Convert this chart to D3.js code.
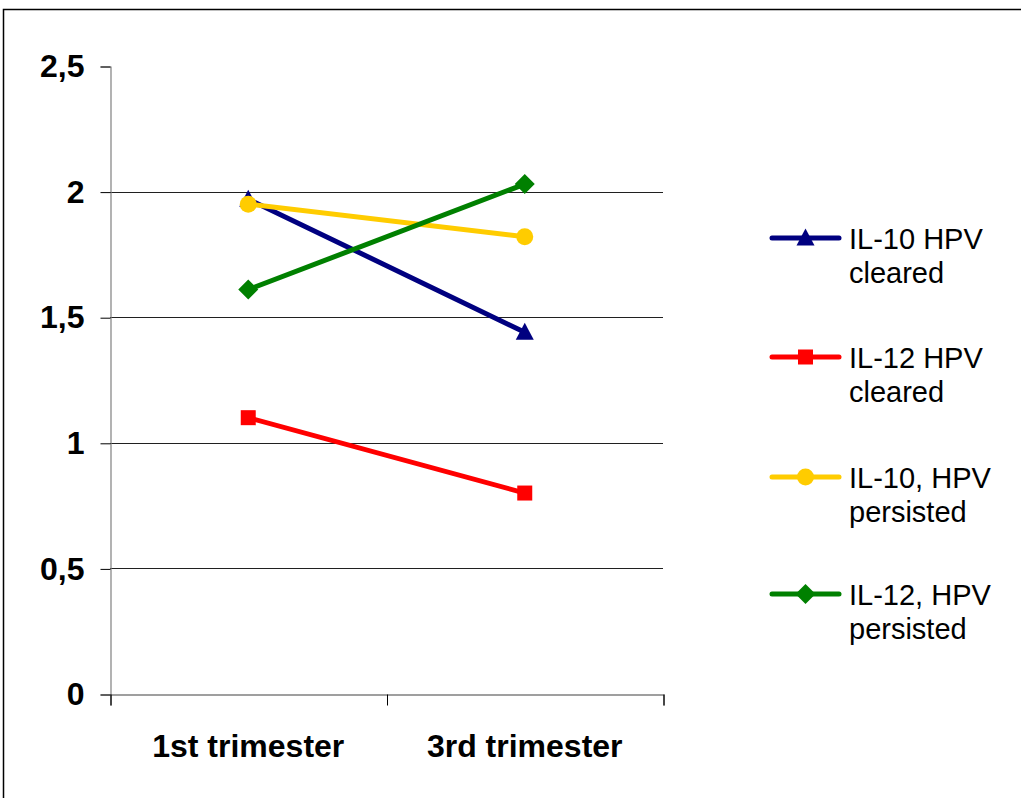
<!DOCTYPE html>
<html>
<head>
<meta charset="utf-8">
<script src="https://cdn.jsdelivr.net/npm/d3@7"></script>
<style>
  html, body { margin: 0; padding: 0; background: #fff; }
  svg { display: block; }
  text { font-family: "Liberation Sans", Arial, sans-serif; fill: #000; }
</style>
</head>
<body>
<svg id="chart" width="1021" height="798"></svg>
<script>
// Trimester categories and IL levels per group
const categories = ["1st trimester", "3rd trimester"];
const seriesNames = [
  ["IL-10 HPV", "cleared"],
  ["IL-12 HPV", "cleared"],
  ["IL-10, HPV", "persisted"],
  ["IL-12, HPV", "persisted"]
];
const il10Cleared   = [1.97, 1.44];
const il12Cleared   = [1.10, 0.80];
const il10Persisted = [1.95, 1.82];
const il12Persisted = [1.61, 2.03];
const yTicks = [0, 0.5, 1, 1.5, 2, 2.5];
const yTickLabels = ["0", "0,5", "1", "1,5", "2", "2,5"];

const colors = ["#000080", "#FF0000", "#FFCC00", "#008000"];
const shapes = ["triangle", "square", "circle", "diamond"];
const values = [il10Cleared, il12Cleared, il10Persisted, il12Persisted];

const svg = d3.select("#chart");

// outer frame
svg.append("rect")
  .attr("x", 3.5).attr("y", 9.5)
  .attr("width", 1040).attr("height", 820)
  .attr("fill", "none").attr("stroke", "#000").attr("stroke-width", 1.5);

const plot = { left: 110, right: 663, top: 66, bottom: 694 };

const x = d3.scaleBand().domain(categories).range([plot.left, plot.right]).padding(0);
const y = d3.scaleLinear().domain([0, 2.5]).range([plot.bottom, plot.top]);
const cx = c => x(c) + x.bandwidth() / 2;

// horizontal gridlines
svg.append("g")
  .selectAll("line")
  .data(yTicks.filter(t => t > 0 && t < 2.5))
  .join("line")
  .attr("x1", plot.left).attr("x2", plot.right)
  .attr("y1", d => Math.round(y(d)) + 0.5).attr("y2", d => Math.round(y(d)) + 0.5)
  .attr("stroke", "#202020").attr("stroke-width", 1.2);

// y axis
const yAxis = d3.axisLeft(y)
  .tickValues(yTicks)
  .tickSize(10)
  .tickPadding(16)
  .tickFormat((d, i) => yTickLabels[i]);
const gy = svg.append("g")
  .attr("transform", `translate(${plot.left + 0.5},0.5)`)
  .call(yAxis);
gy.select(".domain").attr("stroke", "#808080").attr("stroke-width", 1.2);
gy.selectAll(".tick line").attr("stroke", "#000");
gy.selectAll(".tick text")
  .style("font-family", "'Liberation Sans', Arial, sans-serif")
  .style("font-size", "32px").style("font-weight", "bold")
  .attr("fill", "#000");

// x axis with ticks between categories
const xAxisScale = d3.scaleLinear().domain([0, categories.length]).range([plot.left, plot.right]);
const gx = svg.append("g")
  .attr("transform", `translate(0.5,${plot.bottom + 0.5})`)
  .call(d3.axisBottom(xAxisScale).tickValues(d3.range(categories.length + 1)).tickSize(11).tickFormat(""));
gx.select(".domain").attr("stroke", "#404040").attr("stroke-width", 1.2);
gx.selectAll(".tick line").attr("stroke", "#000");

svg.append("g")
  .selectAll("text")
  .data(categories)
  .join("text")
  .attr("x", d => cx(d))
  .attr("y", 757)
  .attr("text-anchor", "middle")
  .style("font-size", "32px").style("font-weight", "bold")
  .text(d => d);

// marker path generator
function markerPath(shape) {
  switch (shape) {
    case "triangle": return "M0,-9.5 L9,7.5 L-9,7.5 Z";
    case "square":   return "M-7.5,-7.5 H7.5 V7.5 H-7.5 Z";
    case "circle":   return d3.arc()({ innerRadius: 0, outerRadius: 8.5, startAngle: 0, endAngle: 2 * Math.PI });
    case "diamond":  return "M0,-10 L10,0 L0,10 L-10,0 Z";
  }
}

const line = d3.line().x(d => cx(d.cat)).y(d => y(d.v));

values.forEach((vals, i) => {
  const pts = vals.map((v, j) => ({ cat: categories[j], v }));
  const g = svg.append("g");
  g.append("path")
    .datum(pts)
    .attr("d", line)
    .attr("fill", "none")
    .attr("stroke", colors[i])
    .attr("stroke-width", 5)
    .attr("stroke-linecap", "round");
  g.selectAll("path.mk")
    .data(pts)
    .join("path")
    .attr("class", "mk")
    .attr("transform", d => `translate(${cx(d.cat)},${y(d.v)})`)
    .attr("d", markerPath(shapes[i]))
    .attr("fill", colors[i]);
});

// legend
const legendY = [238, 357, 477, 594];
const lg = svg.append("g");
seriesNames.forEach((name, i) => {
  const g = lg.append("g").attr("transform", `translate(0,${legendY[i]})`);
  g.append("line")
    .attr("x1", 772).attr("x2", 839)
    .attr("stroke", colors[i]).attr("stroke-width", 5).attr("stroke-linecap", "round");
  g.append("path")
    .attr("transform", "translate(805.5,0)")
    .attr("d", markerPath(shapes[i]))
    .attr("fill", colors[i]);
  g.append("text")
    .attr("x", 849).attr("y", 11)
    .style("font-size", "29px")
    .text(name[0]);
  g.append("text")
    .attr("x", 849).attr("y", 45)
    .style("font-size", "29px")
    .text(name[1]);
});
</script>
</body>
</html>
